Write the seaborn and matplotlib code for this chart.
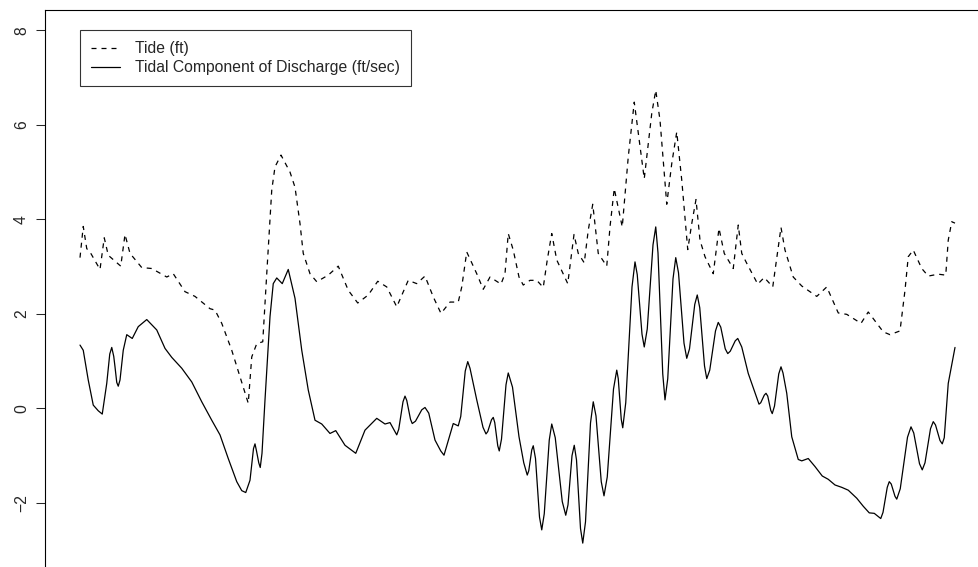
import matplotlib
matplotlib.use("Agg")
import matplotlib.pyplot as plt
import pandas as pd
import seaborn as sns

# Tide (ft); time in days
tide_day = [0.00, 0.13, 0.27, 0.40, 0.80, 0.97, 1.13, 1.63, 1.80, 2.00, 2.47, 2.87,
            3.47, 3.73, 4.20, 4.60, 5.20, 5.40, 5.67, 6.07, 6.73, 6.87, 7.07, 7.31,
            7.47, 7.67, 7.80, 8.04, 8.40, 8.60, 8.80, 8.93, 9.20, 9.47, 9.93, 10.33,
            10.73, 11.11, 11.53, 11.91, 12.27, 12.67, 13.13, 13.47, 13.80, 14.13, 14.44,
            14.80, 15.13, 15.27, 15.47, 15.87, 16.13, 16.40, 16.84, 17.00, 17.13, 17.33,
            17.56, 17.73, 18.00, 18.27, 18.53, 18.69, 18.87, 19.07, 19.51, 19.76, 19.93,
            20.17, 20.33, 20.51, 20.73, 21.07, 21.20, 21.37, 21.69, 21.93, 22.17, 22.57,
            22.87, 23.03, 23.20, 23.47, 23.67, 23.87, 24.07, 24.31, 24.47, 24.64, 24.80,
            25.00, 25.33, 25.56, 25.77, 26.13, 26.33, 26.47, 26.67, 27.11, 27.37, 27.71,
            28.04, 28.20, 28.53, 28.87, 29.47, 29.87, 30.33, 30.67, 31.24, 31.53, 32.13,
            32.40, 32.80, 33.00, 33.13, 33.33, 33.67, 33.93, 34.33, 34.63, 34.73, 34.87,
            35.00]
tide_ft = [3.19, 3.85, 3.38, 3.31, 2.94, 3.61, 3.24, 3.01, 3.68, 3.28, 2.98, 2.96,
           2.78, 2.85, 2.47, 2.37, 2.11, 2.08, 1.80, 1.23, 0.11, 1.09, 1.37, 1.41,
           2.85, 4.62, 5.11, 5.36, 5.00, 4.68, 3.91, 3.28, 2.85, 2.68, 2.82, 3.01,
           2.50, 2.23, 2.40, 2.69, 2.57, 2.15, 2.71, 2.64, 2.80, 2.36, 2.01,
           2.25, 2.25, 2.57, 3.31, 2.85, 2.52, 2.78, 2.63, 2.85, 3.70, 3.35,
           2.78, 2.61, 2.71, 2.71, 2.56, 3.14, 3.70, 3.14, 2.64, 3.68, 3.28,
           3.08, 3.77, 4.32, 3.28, 3.01, 3.84, 4.65, 3.84, 5.32, 6.48, 4.86,
           6.24, 6.73, 6.10, 4.32, 5.18, 5.85, 4.83, 3.36, 3.91, 4.42, 3.56,
           3.21, 2.85, 3.81, 3.28, 2.96, 3.88, 3.28, 3.07, 2.63, 2.77, 2.57,
           3.83, 3.35, 2.78, 2.59, 2.37, 2.57, 2.02, 1.99, 1.80, 2.04, 1.62,
           1.56, 1.64, 2.50, 3.21, 3.35, 2.96, 2.80, 2.84, 2.82, 3.56, 3.95,
           3.92]

# Tidal component of discharge (ft/sec)
flow_day = [0.00, 0.13, 0.33, 0.53, 0.73, 0.89, 1.07, 1.19, 1.27, 1.35, 1.40, 1.47,
            1.53, 1.60, 1.73, 1.87, 2.09, 2.33, 2.67, 3.07, 3.40, 3.67, 4.07, 4.47,
            4.87, 5.27, 5.60, 5.93, 6.27, 6.47, 6.63, 6.80, 6.94, 7.00, 7.06, 7.15,
            7.21, 7.28, 7.40, 7.60, 7.73, 7.87, 8.09, 8.33, 8.60, 8.87, 9.13, 9.40,
            9.67, 10.00, 10.23, 10.60, 11.03, 11.40, 11.87, 12.20, 12.40, 12.67, 12.75,
            12.92, 13.00, 13.07, 13.22, 13.29, 13.42, 13.67, 13.80, 13.95, 14.20, 14.43,
            14.56, 14.93, 15.13, 15.23, 15.41, 15.51, 15.60, 15.87, 16.12, 16.24, 16.31,
            16.46, 16.53, 16.59, 16.71, 16.77, 16.86, 17.04, 17.13, 17.30, 17.56, 17.75,
            17.89, 17.95, 18.07, 18.13, 18.22, 18.38, 18.47, 18.57, 18.77, 18.87, 19.01,
            19.29, 19.43, 19.52, 19.68, 19.77, 19.86, 20.02, 20.11, 20.22, 20.42, 20.53,
            20.64, 20.85, 20.96, 21.09, 21.34, 21.47, 21.53, 21.65, 21.71, 21.83, 22.08,
            22.20, 22.29, 22.48, 22.57, 22.69, 22.92, 23.03, 23.12, 23.31, 23.40, 23.51,
            23.72, 23.83, 23.94, 24.16, 24.27, 24.38, 24.59, 24.69, 24.79, 24.98, 25.07,
            25.19, 25.42, 25.53, 25.63, 25.81, 25.91, 26.01, 26.21, 26.31, 26.47, 26.73,
            27.16, 27.23, 27.37, 27.44, 27.51, 27.63, 27.69, 27.78, 27.95, 28.04, 28.12,
            28.27, 28.47, 28.73, 28.87, 29.13, 29.40, 29.69, 29.93, 30.20, 30.47, 30.73,
            31.07, 31.33, 31.57, 31.77, 32.03, 32.12, 32.29, 32.37, 32.45, 32.60, 32.67,
            32.81, 33.10, 33.24, 33.35, 33.58, 33.69, 33.80, 34.02, 34.13, 34.22, 34.40,
            34.49, 34.57, 34.73, 35.00]
flow_fps = [1.34, 1.23, 0.60, 0.07, -0.05, -0.12, 0.53, 1.15, 1.29, 1.10, 0.88, 0.55,
            0.47, 0.60, 1.23, 1.56, 1.48, 1.73, 1.88, 1.66, 1.27, 1.08, 0.85, 0.56,
            0.14, -0.25, -0.56, -1.06, -1.55, -1.74, -1.78, -1.52, -0.85, -0.75, -0.90, -1.15,
            -1.25, -0.95, 0.18, 1.94, 2.64, 2.76, 2.64, 2.94, 2.33, 1.23, 0.39, -0.25,
            -0.33, -0.53, -0.47, -0.78, -0.95, -0.46, -0.21, -0.33, -0.30, -0.56, -0.44,
            0.14, 0.26, 0.17, -0.23, -0.32, -0.27, -0.03, 0.02, -0.10, -0.67, -0.90,
            -0.99, -0.32, -0.37, -0.17, 0.79, 0.99, 0.85, 0.18, -0.40, -0.54, -0.49,
            -0.24, -0.19, -0.30, -0.79, -0.90, -0.65, 0.50, 0.75, 0.45, -0.60, -1.15,
            -1.41, -1.32, -0.88, -0.79, -1.06, -2.30, -2.57, -2.23, -0.67, -0.33, -0.62,
            -1.97, -2.26, -2.04, -1.00, -0.78, -1.09, -2.54, -2.85, -2.40, -0.31, 0.14,
            -0.16, -1.55, -1.85, -1.45, 0.41, 0.81, 0.63, -0.23, -0.41, 0.12, 2.57,
            3.10, 2.83, 1.57, 1.30, 1.68, 3.46, 3.84, 3.29, 0.73, 0.18, 0.63,
            2.74, 3.19, 2.87, 1.38, 1.06, 1.26, 2.20, 2.40, 2.13, 0.90, 0.63,
            0.81, 1.64, 1.82, 1.72, 1.26, 1.16, 1.21, 1.43, 1.48, 1.30, 0.74,
            0.09, 0.12, 0.28, 0.32, 0.26, -0.04, -0.11, 0.05, 0.73, 0.88, 0.75,
            0.32, -0.60, -1.08, -1.11, -1.06, -1.23, -1.43, -1.50, -1.62, -1.67, -1.73,
            -1.90, -2.07, -2.21, -2.22, -2.33, -2.20, -1.67, -1.55, -1.60, -1.86, -1.92,
            -1.70, -0.61, -0.39, -0.52, -1.17, -1.30, -1.15, -0.43, -0.28, -0.35, -0.68,
            -0.75, -0.62, 0.53, 1.29]

y_ticks = [-2, 0, 2, 4, 6, 8]
labels = ["Tide (ft)", "Tidal Component of Discharge (ft/sec)"]

sns.set_style("ticks")
plt.rcParams['font.family'] = ['Liberation Sans', 'DejaVu Sans']

tide = pd.DataFrame({'day': tide_day, 'value': tide_ft})
flow = pd.DataFrame({'day': flow_day, 'value': flow_fps})

fig = plt.figure(figsize=(9.79, 5.67), dpi=100)
# R-style plot region; right and bottom edges fall just outside the canvas
ax = fig.add_axes([45 / 979, -4 / 567, 945 / 979, 561.5 / 567])

sns.lineplot(data=tide, x='day', y='value', ax=ax, color='black', linewidth=0.9,
             linestyle=(0, (4, 4)), errorbar=None, label=labels[0])
sns.lineplot(data=flow, x='day', y='value', ax=ax, color='black', linewidth=0.9,
             errorbar=None, label=labels[1])

ax.set_xlim(-1.4, 36.4)
ax.set_ylim(-3.44, 8.44)
ax.set_xticks([])
ax.set_yticks(y_ticks)
ax.set_yticklabels([str(t).replace('-', '\u2212') for t in y_ticks], rotation=90, va='center')
ax.tick_params(axis='y', length=6.5, width=0.75, labelsize=11.3, pad=5)
ax.set_xlabel('')
ax.set_ylabel('')
for s in ax.spines.values():
    s.set_visible(True)
    s.set_linewidth(0.8)
    s.set_color('black')

leg = ax.legend(loc='upper left', bbox_to_anchor=(35 / 945, 1 - 20.5 / 561.5),
                fontsize=11.3, frameon=True, fancybox=False, edgecolor='black',
                handlelength=1.85, handletextpad=0.95, borderpad=0.72,
                labelspacing=0.24, borderaxespad=0)
leg.get_frame().set_linewidth(0.8)

fig.savefig('out.png', dpi=100)
